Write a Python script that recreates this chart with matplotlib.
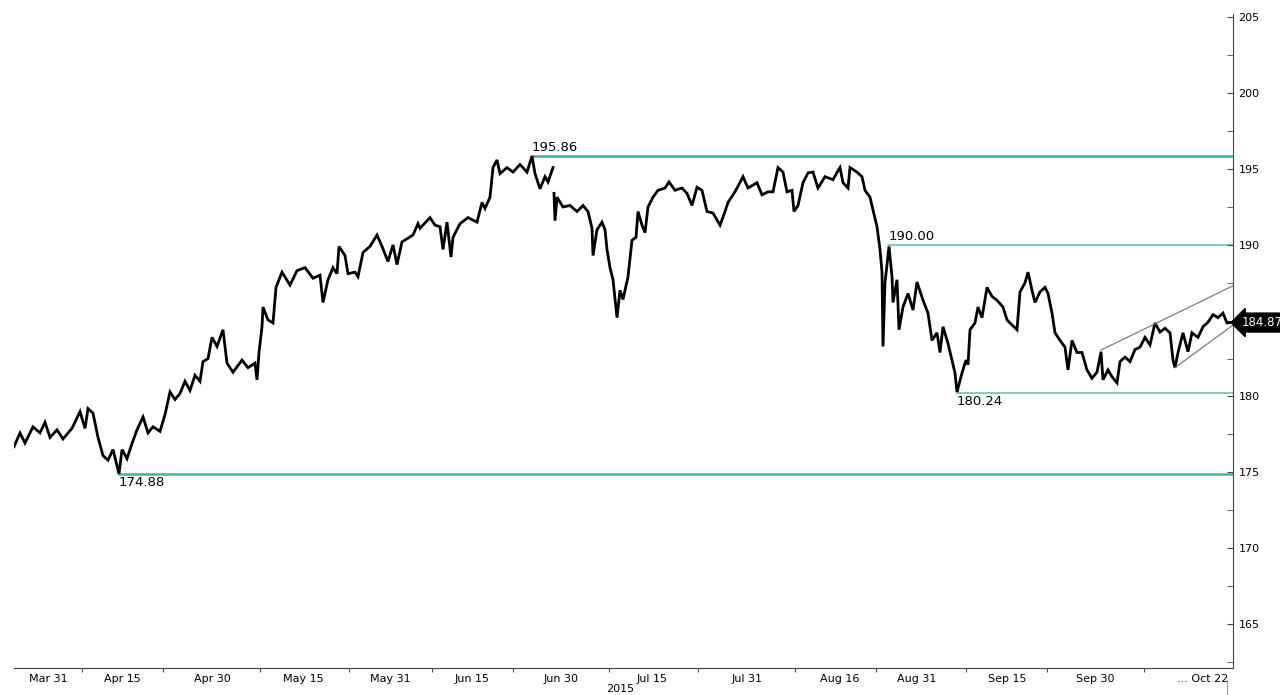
import numpy as np
import matplotlib.pyplot as plt
from matplotlib.lines import Line2D

# hourly bar index (gap-free trading time) and price
bar = [0, 6, 11, 19, 26, 31, 36, 43, 49, 58, 66, 71, 74, 79, 84, 89, 94, 99, 105, 108,
       113, 118, 123, 129, 134, 139, 146, 151, 156, 161, 166, 171, 176, 181, 186, 189,
       194, 198, 203, 209, 213, 219, 228, 234, 241, 243, 245, 248, 249, 254, 259, 262,
       268, 276, 283, 291, 299, 306, 309, 314, 319, 323, 325, 331, 334, 341, 344, 349,
       356, 363, 368, 374, 379, 383, 388, 394, 399, 404, 406, 416, 421, 426, 429, 433,
       437, 439, 446, 454, 463, 468, 471, 476, 479, 483, 486, 493, 499, 506, 513, 518,
       521, 526, 531, 534, 539,
       539.5,
       540, 541, 543, 549, 556, 563, 569, 574, 578, 579, 583, 588, 591, 593, 596, 599,
       603, 606, 609, 614, 618, 622, 624, 628, 631, 634, 639, 644, 651, 655, 661, 668,
       673, 678, 683, 688, 693, 699, 706, 711, 714, 721, 729, 734, 743, 748, 754, 759,
       764, 769, 773, 778, 780, 784, 789, 794, 799, 804, 811, 819, 824, 826, 829, 834,
       836, 843, 848, 851, 856, 859, 863, 866, 868, 869, 871, 875, 878, 879, 883, 885,
       889, 894, 899, 903, 909, 914, 918, 923, 926, 929, 934, 938, 941, 943, 948, 952,
       954, 956, 961, 964, 968, 973, 978, 983, 989, 993, 996, 1003, 1006, 1011, 1014,
       1018, 1021, 1026, 1031, 1034, 1038, 1041, 1046, 1051, 1054, 1058, 1063, 1068,
       1073, 1078, 1083, 1087, 1089, 1094, 1098, 1103, 1106, 1111, 1116, 1121, 1126,
       1131, 1136, 1141, 1146, 1151, 1156, 1159, 1161, 1164, 1169, 1174, 1178, 1184,
       1189, 1194, 1199, 1204, 1209, 1213, 1216]
price = [176.69, 177.59, 176.93, 178.0, 177.6, 178.3, 177.3, 177.8, 177.2, 177.9, 179.0,
         177.9, 179.2, 178.9, 177.3, 176.1, 175.8, 176.5, 174.9, 176.5, 175.9, 176.9,
         177.8, 178.65, 177.6, 178.0, 177.7, 178.8, 180.3, 179.8, 180.2, 181.0, 180.4,
         181.4, 181.0, 182.3, 182.5, 183.9, 183.3, 184.4, 182.2, 181.6, 182.4, 181.9,
         182.2, 181.1, 182.9, 184.6, 185.9, 185.05, 184.85, 187.2, 188.2, 187.35, 188.3,
         188.5, 187.8, 188.0, 186.2, 187.7, 188.5, 188.1, 189.9, 189.3, 188.1, 188.2,
         187.9, 189.5, 189.9, 190.65, 189.9, 188.9, 190.0, 188.7, 190.2, 190.45, 190.65,
         191.4, 191.1, 191.8, 191.3, 191.2, 189.7, 191.5, 189.2, 190.5, 191.4, 191.8,
         191.5, 192.8, 192.4, 193.15, 195.1, 195.6, 194.7, 195.1, 194.8, 195.3, 194.8,
         195.86, 194.7, 193.7, 194.5, 194.15, 195.1,
         np.nan,
         193.4, 191.6, 193.15, 192.5, 192.6, 192.2, 192.6, 192.2, 191.1, 189.3, 191.0,
         191.5, 191.0, 189.7, 188.5, 187.7, 185.2, 187.0, 186.4, 187.9, 190.3, 190.5,
         192.2, 191.3, 190.8, 192.5, 193.15, 193.6, 193.75, 194.15, 193.6, 193.75, 193.4,
         192.6, 193.8, 193.6, 192.2, 192.1, 191.3, 192.2, 192.8, 193.5, 194.5, 193.75,
         194.1, 193.3, 193.5, 193.5, 195.1, 194.8, 193.5, 193.6, 192.2, 192.6, 194.1,
         194.75, 194.8, 193.75, 194.5, 194.3, 194.9, 195.1, 194.1, 193.75, 195.1, 194.8,
         194.5, 193.6, 193.15, 192.3, 191.2, 189.7, 188.2, 183.3, 187.5, 189.9, 187.9,
         186.2, 187.7, 184.4, 185.9, 186.8, 185.7, 187.55, 186.35, 185.5, 183.7, 184.2,
         182.9, 184.6, 183.5, 182.4, 181.55, 180.3, 181.55, 182.4, 182.1, 184.4, 184.85,
         185.9, 185.2, 187.2, 186.6, 186.35, 185.9, 185.05, 184.85, 184.4, 186.9, 187.5,
         188.2, 187.0, 186.2, 186.9, 187.2, 186.8, 185.5, 184.2, 183.7, 183.25, 181.75,
         183.7, 182.9, 182.9, 181.75, 181.2, 181.6, 182.95, 181.1, 181.75, 181.3, 180.9,
         182.3, 182.6, 182.3, 183.1, 183.25, 183.9, 183.4, 184.85, 184.25, 184.5, 184.2,
         182.4, 181.9, 182.9, 184.2, 182.95, 184.2, 183.9, 184.6, 184.9, 185.4, 185.2,
         185.5, 184.85, 184.877]

# support / resistance levels
levels = [195.86, 190.00, 180.24, 174.88]
level_start = [518, 875, 943, 105]
level_label_above = [True, True, False, False]
level_colors = ['#3dba85', '#79d1ad', '#79d1ad', '#3dba85']
level_widths = [1.8, 1.4, 1.4, 1.8]

# rising wedge trend lines
upper_trend = ([1087, 1219], [183.06, 187.3])
lower_trend = ([1161, 1219], [181.9, 184.71])

last_price = 184.877

tick_bounds = [68, 149, 246, 335, 418, 499, 595, 684, 781, 862, 952, 1033, 1130]
label_pos = [34, 108, 198, 289, 376, 458, 547, 638, 733, 826, 903, 993, 1081, 1189]
label_text = ['Mar 31', 'Apr 15', 'Apr 30', 'May 15', 'May 31', 'Jun 15', 'Jun 30',
              'Jul 15', 'Jul 31', 'Aug 16', 'Aug 31', 'Sep 15', 'Sep 30', '... Oct 22']

yticks = [165, 170, 175, 180, 185, 190, 195, 200, 205]
# the 185 label sits under the last-price box
ytick_labels = ['165', '170', '175', '180', '', '190', '195', '200', '205']

fig = plt.figure(figsize=(12.8, 6.95), dpi=100)
ax = fig.add_axes([14 / 1280, 27 / 695, 1219 / 1280, 654 / 695])

ax.plot(bar, price, color='black', lw=2.0, solid_joinstyle='miter')

x_end = 1219
for lv, st, above, c, w in zip(levels, level_start, level_label_above, level_colors, level_widths):
    ax.plot([st, x_end], [lv, lv], color=c, lw=w, zorder=1)
    if above:
        ax.text(st, lv + 0.15, f'{lv:.2f}', ha='left', va='bottom', fontsize=9.5)
    else:
        ax.text(st, lv - 0.15, f'{lv:.2f}', ha='left', va='top', fontsize=9.5)

ax.plot(*upper_trend, color='#6f7d9e', lw=0.9)
ax.plot(*lower_trend, color='#6f7d9e', lw=0.9)

ax.set_xlim(0, x_end)
ax.set_ylim(162.09, 205.23)

for s in ['left', 'top']:
    ax.spines[s].set_visible(False)
ax.spines['right'].set_color('#444444')
ax.spines['bottom'].set_color('#444444')

ax.yaxis.tick_right()
ax.set_yticks(yticks)
ax.set_yticklabels(ytick_labels)
ax.set_yticks(np.arange(162.5, 205, 5), minor=True)
ax.tick_params(axis='y', which='both', direction='in', length=4, labelsize=8, pad=4,
               color='#444444')

ax.set_xticks(tick_bounds)
ax.set_xticklabels([])
ax.set_xticks(label_pos, minor=True)
ax.set_xticklabels(label_text, minor=True)
ax.tick_params(axis='x', which='major', direction='out', length=3, color='#444444')
ax.tick_params(axis='x', which='minor', length=0, labelsize=8, pad=4)

ax.annotate(f'{last_price:.3f}', xy=(1, last_price), xycoords=('axes fraction', 'data'),
            xytext=(6, 0), textcoords='offset points', ha='left', va='center',
            fontsize=8.5, color='white', annotation_clip=False, zorder=5,
            bbox=dict(boxstyle='larrow,pad=0.25', fc='black', ec='black'))

fig.text(620 / 1280, 1 - 689 / 695, '2015', ha='center', va='center', fontsize=8)
fig.add_artist(Line2D([1227 / 1280, 1227 / 1280], [0, 15 / 695], color='#999999', lw=0.8))

fig.savefig('out.png', dpi=100)
